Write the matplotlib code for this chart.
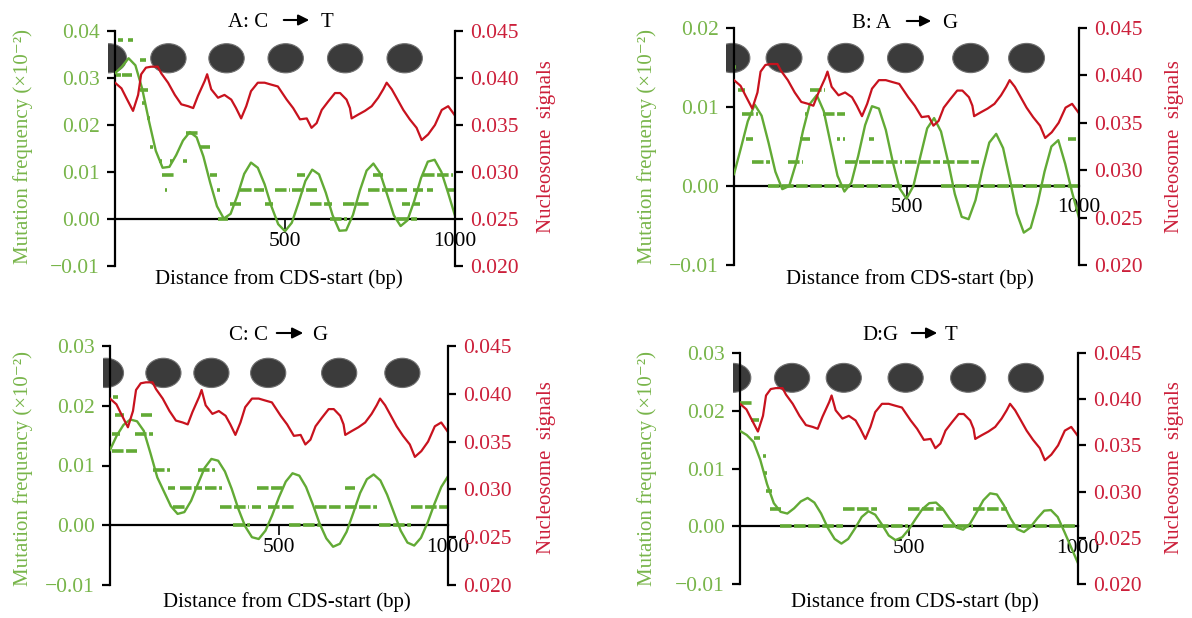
import numpy as np
import matplotlib.pyplot as plt
from matplotlib.patches import Ellipse, Rectangle, FancyArrowPatch
from matplotlib.ticker import FuncFormatter

plt.rcParams['font.family'] = ['Liberation Serif', 'DejaVu Serif']

W, H = 1192, 618

# distance from CDS start for the fitted curves (bp)
bp_grid = np.arange(0, 1001, 20)

# fitted mutation frequency curves (x10^-2)
fit_a = [0.0310, 0.0324, 0.0342, 0.0327, 0.0277, 0.0208, 0.0145, 0.0109, 0.0111, 0.0136,
         0.0167, 0.0185, 0.0174, 0.0133, 0.0077, 0.0027, 0.0001, 0.0011, 0.0050, 0.0096,
         0.0120, 0.0109, 0.0074, 0.0027, -0.0011, -0.0026, -0.0008, 0.0035, 0.0081, 0.0105,
         0.0095, 0.0056, 0.0008, -0.0025, -0.0024, 0.0009, 0.0060, 0.0103, 0.0118, 0.0097,
         0.0053, 0.0008, -0.0015, -0.0003, 0.0038, 0.0087, 0.0122, 0.0126, 0.0100, 0.0055,
         0.0007]
fit_b = [0.0015, 0.0048, 0.0082, 0.0103, 0.0089, 0.0055, 0.0018, -0.0004, 0.0000, 0.0029,
         0.0070, 0.0104, 0.0115, 0.0095, 0.0054, 0.0013, -0.0007, 0.0004, 0.0038, 0.0077,
         0.0101, 0.0098, 0.0071, 0.0031, -0.0003, -0.0016, 0.0000, 0.0037, 0.0073, 0.0086,
         0.0069, 0.0032, -0.0010, -0.0039, -0.0042, -0.0018, 0.0021, 0.0055, 0.0066, 0.0048,
         0.0008, -0.0035, -0.0059, -0.0053, -0.0022, 0.0018, 0.0050, 0.0058, 0.0028, -0.0008,
         -0.0040]
fit_c = [0.0126, 0.0150, 0.0168, 0.0177, 0.0174, 0.0158, 0.0120, 0.0080, 0.0056, 0.0032,
         0.0019, 0.0022, 0.0041, 0.0069, 0.0096, 0.0111, 0.0108, 0.0090, 0.0061, 0.0027,
         -0.0002, -0.0020, -0.0023, -0.0009, 0.0017, 0.0047, 0.0073, 0.0087, 0.0083, 0.0064,
         0.0035, 0.0003, -0.0022, -0.0036, -0.0031, -0.0011, 0.0021, 0.0054, 0.0077, 0.0085,
         0.0075, 0.0051, 0.0021, -0.0009, -0.0029, -0.0034, -0.0021, 0.0005, 0.0036, 0.0064,
         0.0082]
fit_d = [0.0165, 0.0158, 0.0146, 0.0115, 0.0073, 0.0040, 0.0025, 0.0022, 0.0031, 0.0043,
         0.0049, 0.0041, 0.0022, -0.0003, -0.0022, -0.0030, -0.0022, -0.0004, 0.0016, 0.0026,
         0.0020, 0.0003, -0.0016, -0.0024, -0.0019, -0.0005, 0.0013, 0.0030, 0.0040, 0.0041,
         0.0030, 0.0013, -0.0002, -0.0006, 0.0004, 0.0024, 0.0045, 0.0057, 0.0055, 0.0037,
         0.0014, -0.0005, -0.0010, -0.0001, 0.0014, 0.0027, 0.0028, 0.0016, -0.0010, -0.0037,
         -0.0064]

# observed mutation frequency runs: start bp, end bp, level
dash_a_start = [9, 38, 73, 2, 21, 73, 78, 93, 208, 103, 250, 128, 162, 201, 137, 279, 534, 760, 907,
                147, 299, 368, 471, 520, 745, 784, 877, 917, 975, 338, 441, 574, 672, 843, 877,
                304, 632, 828]
dash_a_end = [24, 53, 92, 17, 50, 98, 90, 103, 243, 112, 279, 137, 172, 213, 176, 299, 559, 789, 995,
              152, 309, 437, 515, 593, 779, 858, 907, 936, 1000, 372, 466, 637, 750, 868, 897,
              333, 681, 887]
dash_a_level = [0.0380, 0.0380, 0.0339, 0.0307, 0.0307, 0.0274, 0.0246, 0.0214, 0.0183, 0.0153,
                0.0153, 0.0123, 0.0123, 0.0123, 0.0093, 0.0093, 0.0093, 0.0093, 0.0093,
                0.0062, 0.0062, 0.0062, 0.0062, 0.0062, 0.0062, 0.0062, 0.0062, 0.0062, 0.0062,
                0.0032, 0.0032, 0.0032, 0.0032, 0.0032, 0.0032, 0.0, 0.0, 0.0]

dash_b_start = [2, 12, 220, 22, 205, 259, 36, 191, 298, 315, 391, 967, 51, 157, 322, 399, 497, 607,
                98, 600]
dash_b_end = [7, 31, 263, 70, 214, 322, 56, 220, 307, 322, 405, 991, 104, 201, 394, 486, 597, 711,
              486, 1000]
dash_b_level = [0.0151, 0.0121, 0.0121, 0.0091, 0.0091, 0.0091, 0.0060, 0.0060, 0.0060, 0.0060,
                0.0060, 0.0060, 0.0030, 0.0030, 0.0030, 0.0030, 0.0030, 0.0030, 0.0, 0.0]

dash_c_start = [10, 15, 93, 5, 74, 5, 128, 261, 172, 207, 281, 434, 695, 187, 325, 420, 467, 607,
                695, 892, 365, 530, 796]
dash_c_end = [25, 40, 123, 30, 128, 79, 177, 311, 192, 271, 330, 513, 725, 226, 410, 448, 546, 686,
              790, 1000, 414, 625, 892]
dash_c_level = [0.0215, 0.0185, 0.0185, 0.0153, 0.0153, 0.0124, 0.0093, 0.0093, 0.0062, 0.0062,
                0.0062, 0.0062, 0.0062, 0.0031, 0.0031, 0.0031, 0.0031, 0.0031, 0.0031, 0.0031,
                0.0, 0.0, 0.0]

dash_d_start = [0, 32, 42, 67, 70, 76, 89, 305, 498, 690, 118, 406, 600, 790]
dash_d_end = [40, 55, 60, 77, 80, 94, 120, 406, 600, 790, 305, 498, 690, 1000]
dash_d_level = [0.0214, 0.0184, 0.0152, 0.0122, 0.0093, 0.0061, 0.0030, 0.0030, 0.0030, 0.0030,
                0.0, 0.0, 0.0, 0.0]

# average nucleosome signal (same in all panels)
nuc_bp = [0, 19, 33, 53, 68, 77, 91, 106, 126, 136, 156, 176, 195, 215, 230, 244, 264, 271, 283,
          303, 322, 342, 356, 371, 386, 400, 420, 440, 459, 479, 505, 524, 544, 564, 578, 593,
          608, 627, 647, 662, 681, 691, 696, 715, 735, 755, 774, 789, 799, 814, 828, 848, 867,
          887, 902, 921, 941, 961, 980, 994, 1000]
nuc_signal = [0.0395, 0.0389, 0.0379, 0.0365, 0.0382, 0.0404, 0.0411, 0.0412, 0.0412, 0.0405,
              0.0395, 0.0382, 0.0372, 0.0370, 0.0368, 0.0381, 0.0397, 0.0404, 0.0388, 0.0379,
              0.0382, 0.0377, 0.0368, 0.0357, 0.0370, 0.0386, 0.0395, 0.0395, 0.0393, 0.0391,
              0.0377, 0.0368, 0.0356, 0.0357, 0.0347, 0.0352, 0.0366, 0.0375, 0.0384, 0.0384,
              0.0377, 0.0368, 0.0357, 0.0361, 0.0365, 0.0370, 0.0379, 0.0388, 0.0395, 0.0388,
              0.0379, 0.0366, 0.0356, 0.0347, 0.0334, 0.0340, 0.0350, 0.0366, 0.0370, 0.0363,
              0.0360]

# nucleosome positions (bp)
nucl_a = [-18, 157, 328, 502, 677, 852]
nucl_b = [-6, 145, 324, 497, 686, 848]
nucl_c = [-12, 158, 300, 468, 678, 865]
nucl_d = [-20, 154, 307, 490, 675, 846]

titles = [("A: C", "T"), ("B: A", "G"), ("C: C", "G"), ("D:G", "T")]

GREEN = '#62aa35'
GREEN_TXT = '#78b54a'
RED = '#c8121e'
RED_TXT = '#cc1f3a'

fig = plt.figure(figsize=(W / 100, H / 100), dpi=100)


def fx(x):
    return x / W


def fy(y):
    return 1 - y / H


def minus(fmt):
    return FuncFormatter(lambda v, p: (fmt % v).replace('-', '\u2212'))


panels = [
    dict(box=(115, 31, 455, 266), ylim=(-0.01, 0.04), fit=fit_a,
         dash=(dash_a_start, dash_a_end, dash_a_level), nucl=nucl_a, ny=0.0342, nh=0.0062,
         title=(268, 281, 312, 321, 27, 20), xlab=(279, 279), ylab=(23, 547, 147)),
    dict(box=(734, 28, 1079, 265), ylim=(-0.01, 0.02), fit=fit_b,
         dash=(dash_b_start, dash_b_end, dash_b_level), nucl=nucl_b, ny=0.0162, nh=0.0037,
         title=(891, 904, 934, 942, 28, 21), xlab=(910, 279), ylab=(647, 1175, 147)),
    dict(box=(110, 346, 448, 585), ylim=(-0.01, 0.03), fit=fit_c,
         dash=(dash_c_start, dash_c_end, dash_c_level), nucl=nucl_c, ny=0.0255, nh=0.0049,
         title=(268, 274, 306, 312, 340, 333), xlab=(287, 602), ylab=(23, 547, 468)),
    dict(box=(740, 353, 1078, 584), ylim=(-0.01, 0.03), fit=fit_d,
         dash=(dash_d_start, dash_d_end, dash_d_level), nucl=nucl_d, ny=0.0257, nh=0.0050,
         title=(898, 909, 940, 945, 340, 333), xlab=(915, 602), ylab=(647, 1175, 468)),
]

for p, (t1, t2) in zip(panels, titles):
    l, t, r, b = p['box']
    ax = fig.add_axes([l / W, 1 - b / H, (r - l) / W, (b - t) / H])
    lo, hi = p['ylim']
    ax.set_xlim(0, 1000)
    ax.set_ylim(lo, hi)
    ax.patch.set_alpha(0)

    for c in p['nucl']:
        e = Ellipse((c, p['ny']), 104, p['nh'], facecolor='#3b3b3b', edgecolor='#707070',
                    lw=0.8, zorder=1)
        ax.add_patch(e)
        e.set_clip_path(Rectangle((-22, lo), 1030, hi - lo, transform=ax.transData))

    ds, de, dl = p['dash']
    ax.hlines(dl, ds, de, colors=GREEN, lw=2.6, linestyles=(0, (3.2, 0.7)), zorder=3)
    ax.plot(bp_grid, p['fit'], color=GREEN, lw=1.7, zorder=3)

    ax.spines['top'].set_visible(False)
    ax.spines['right'].set_visible(False)
    ax.spines['bottom'].set_position(('data', 0))
    for s in ('left', 'bottom'):
        ax.spines[s].set_linewidth(1.6)
    ax.set_xticks([500, 1000])
    ax.tick_params(axis='x', direction='out', length=7, width=1.2, labelsize=15.5, pad=2)
    ax.set_yticks(np.arange(lo, hi + 1e-9, 0.01))
    ax.yaxis.set_major_formatter(minus('%.2f'))
    ax.tick_params(axis='y', direction='out', length=6, width=1.6, labelsize=15.5,
                   labelcolor=GREEN_TXT, pad=5)

    ax2 = ax.twinx()
    ax2.set_ylim(0.020, 0.045)
    ax2.plot(nuc_bp, nuc_signal, color=RED, lw=1.6)
    for s in ('top', 'left', 'bottom'):
        ax2.spines[s].set_visible(False)
    ax2.spines['right'].set_linewidth(1.6)
    ax2.set_yticks(np.arange(0.020, 0.0451, 0.005))
    ax2.yaxis.set_major_formatter(minus('%.3f'))
    ax2.tick_params(axis='y', direction='out', length=6, width=1.6, labelsize=15.5,
                    labelcolor=RED_TXT, pad=5)

    # title with arrow
    xa, a0, a1, xb, base, ya = p['title']
    fig.text(fx(xa), fy(base), t1, ha='right', va='baseline', fontsize=15)
    fig.text(fx(xb), fy(base), t2, ha='left', va='baseline', fontsize=15)
    fig.add_artist(FancyArrowPatch((fx(a0), fy(ya)), (fx(a1), fy(ya)), transform=fig.transFigure,
                                   arrowstyle='-|>', mutation_scale=16, lw=1.5, color='black'))

    xc, yc = p['xlab']
    fig.text(fx(xc), fy(yc), 'Distance from CDS-start (bp)', ha='center', va='center', fontsize=15)
    ylx, yrx, yy = p['ylab']
    fig.text(fx(ylx), fy(yy), 'Mutation frequency (\u00d710\u207b\u00b2)', rotation=90,
             ha='center', va='center', fontsize=15, color=GREEN_TXT)
    fig.text(fx(yrx), fy(yy), 'Nucleosome  signals', rotation=90,
             ha='center', va='center', fontsize=15, color=RED_TXT)

fig.savefig('out.png', dpi=100)
